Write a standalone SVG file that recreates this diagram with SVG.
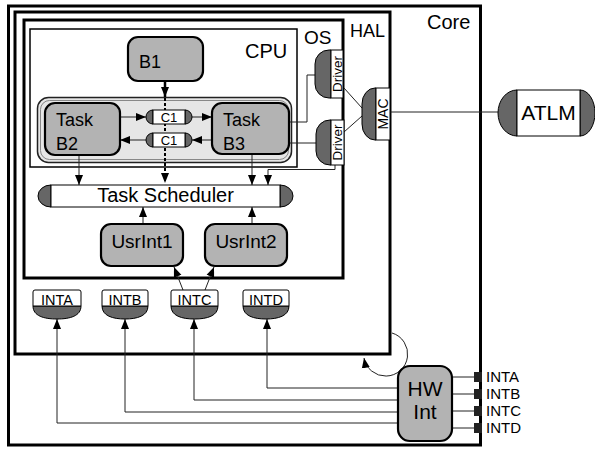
<svg xmlns="http://www.w3.org/2000/svg" width="595" height="449" viewBox="0 0 595 449">
<style>
text{font-family:"Liberation Sans",Arial,sans-serif;fill:#000}
.box{fill:none;stroke:#000;stroke-width:3}
.node{fill:#b3b3b3;stroke:#000;stroke-width:2.2}
.cap{fill:#666;stroke:#000;stroke-width:1}
.wh{fill:#fff;stroke:#000;stroke-width:1}
.ln{fill:none;stroke:#222;stroke-width:1}
.lnb{fill:none;stroke:#111;stroke-width:1.5}
</style>
<defs>
<marker id="ah" markerUnits="userSpaceOnUse" markerWidth="10" markerHeight="10" viewBox="0 0 10 10" refX="10" refY="5" orient="auto"><path d="M0,1 L10,5 L0,9 Z" fill="#000"/></marker>
</defs>
<rect width="595" height="449" fill="#fff"/>
<g id="core"><rect x="8.5" y="6" width="472" height="439" class="box"/><text x="427" y="29" font-size="20">Core</text></g>
<g id="hal"><rect x="15" y="12" width="375" height="342" class="box"/><text x="350" y="37" font-size="18">HAL</text></g>
<g id="os"><rect x="24" y="20" width="319" height="258" class="box"/><text x="304" y="44" font-size="19">OS</text></g>
<g id="cpu"><rect x="30" y="29" width="267" height="138" fill="none" stroke="#000" stroke-width="1.5"/><text x="245" y="58" font-size="20">CPU</text></g>
<g id="group"><rect x="37.5" y="97.5" width="254" height="65" rx="11" fill="#e6e6e6" stroke="#222" stroke-width="1.5"/><rect x="40.5" y="100.5" width="248" height="59" rx="9" fill="none" stroke="#888" stroke-width="1"/></g>
<g id="connectors">
<line x1="165" y1="81" x2="165" y2="97" stroke="#000" stroke-width="2.5" marker-end="url(#ah)"/>
<line x1="165" y1="98" x2="165" y2="183" stroke="#000" stroke-width="2" stroke-dasharray="3,2" marker-end="url(#ah)"/>
<line x1="120" y1="117" x2="146" y2="117" class="ln" marker-end="url(#ah)"/>
<line x1="192" y1="117" x2="212" y2="117" class="ln" marker-end="url(#ah)"/>
<line x1="212" y1="140" x2="192" y2="140" class="ln" marker-end="url(#ah)"/>
<line x1="146" y1="140" x2="120" y2="140" class="ln" marker-end="url(#ah)"/>
<line x1="79" y1="155" x2="79" y2="185" class="ln" marker-end="url(#ah)"/>
<line x1="252" y1="154" x2="252" y2="185" class="ln" marker-end="url(#ah)"/>
<polyline points="335,165 335,169.5 268,169.5 268,185" class="ln" marker-end="url(#ah)"/>
<polyline points="290,122 307,122 307,75 316,75" class="ln"/>
<line x1="290" y1="143" x2="316" y2="143" class="ln"/>
<line x1="344" y1="88" x2="362" y2="108" class="ln"/>
<line x1="344" y1="132" x2="362" y2="116" class="ln"/>
<line x1="390" y1="112" x2="498" y2="112" class="ln"/>
<line x1="143" y1="224" x2="143" y2="207" class="ln" marker-end="url(#ah)"/>
<line x1="252" y1="224" x2="252" y2="207" class="ln" marker-end="url(#ah)"/>
<line x1="183" y1="290" x2="174" y2="267" class="ln" marker-end="url(#ah)"/>
<line x1="205" y1="290" x2="214" y2="267" class="ln" marker-end="url(#ah)"/>
<polyline points="398,423 57,423 57,319" class="ln" marker-end="url(#ah)"/>
<polyline points="398,412 125,412 125,319" class="ln" marker-end="url(#ah)"/>
<polyline points="398,400 194,400 194,319" class="ln" marker-end="url(#ah)"/>
<polyline points="398,388 267,388 267,319" class="ln" marker-end="url(#ah)"/>
<line x1="452" y1="377" x2="474" y2="377" class="ln"/>
<line x1="452" y1="394" x2="474" y2="394" class="ln"/>
<line x1="452" y1="411" x2="474" y2="411" class="ln"/>
<line x1="452" y1="428" x2="474" y2="428" class="ln"/>
<path d="M392,333 A22,22 0 1 1 364,358" class="ln" marker-end="url(#ah)"/>
</g>
<g id="b1"><rect x="128" y="37" width="75" height="44" rx="10" class="node"/><text x="139" y="68" font-size="18">B1</text></g>
<g id="taskb2"><rect x="45" y="103" width="75" height="52" rx="10" class="node"/><text x="56" y="126" font-size="18">Task</text><text x="56" y="150" font-size="18">B2</text></g>
<g id="taskb3"><rect x="212" y="103" width="77" height="51" rx="10" class="node"/><text x="223" y="126" font-size="18">Task</text><text x="223" y="150" font-size="18">B3</text></g>
<g id="c1a"><path d="M153,110 A7,7 0 0 0 153,124 Z" class="cap"/><path d="M185,110 A7,7 0 0 1 185,124 Z" class="cap"/><rect x="153" y="110" width="32" height="14" class="wh"/><text x="169" y="122" font-size="13" text-anchor="middle">C1</text></g>
<g id="c1b"><path d="M153,133 A7,7 0 0 0 153,147 Z" class="cap"/><path d="M185,133 A7,7 0 0 1 185,147 Z" class="cap"/><rect x="153" y="133" width="32" height="14" class="wh"/><text x="169" y="145" font-size="13" text-anchor="middle">C1</text></g>
<g id="driver1"><path d="M331,50 H329 A14,14 0 0 0 315,64 V84 A14,14 0 0 0 329,98 H331 Z" class="cap"/><rect x="331" y="50" width="12" height="48" class="wh"/><text transform="translate(341.5,74) rotate(-90)" font-size="13.5" text-anchor="middle">Driver</text></g>
<g id="driver2"><path d="M331,120 H330 A14,14 0 0 0 316,134 V151 A14,14 0 0 0 330,165 H331 Z" class="cap"/><rect x="331" y="120" width="13" height="45" class="wh"/><text transform="translate(342,142.5) rotate(-90)" font-size="13.5" text-anchor="middle">Driver</text></g>
<g id="mac"><path d="M376,88 H375 A13,16 0 0 0 362,104 V124 A13,16 0 0 0 375,140 H376 Z" class="cap"/><rect x="376" y="88" width="14" height="52" class="wh"/><text transform="translate(388,114) rotate(-90)" font-size="14" text-anchor="middle">MAC</text></g>
<g id="atlm"><path d="M517,90 A19,23 0 0 0 517,136 Z" class="cap"/><path d="M580,90 A15,23 0 0 1 580,136 Z" class="cap"/><rect x="517" y="90" width="63" height="46" class="wh"/><text x="548.5" y="120" font-size="21" text-anchor="middle">ATLM</text></g>
<g id="scheduler"><path d="M51,185 A13,11 0 0 0 51,207 Z" class="cap"/><path d="M280,185 A13,11 0 0 1 280,207 Z" class="cap"/><rect x="51" y="185" width="229" height="22" class="wh"/><text x="165.5" y="202" font-size="20" text-anchor="middle">Task Scheduler</text></g>
<g id="usrint1"><rect x="101" y="224" width="82" height="42" rx="10" class="node"/><text x="142" y="248" font-size="19" text-anchor="middle">UsrInt1</text></g>
<g id="usrint2"><rect x="205" y="224" width="82" height="42" rx="10" class="node"/><text x="246" y="248" font-size="19" text-anchor="middle">UsrInt2</text></g>
<g id="inta"><path d="M33,306 H81 C81,316 70,319 57,319 C44,319 33,316 33,306 Z" class="cap"/><path d="M33,306 V292 Q33,290 35,290 H79 Q81,290 81,292 V306 Z" class="wh"/><text x="57" y="305" font-size="14.5" text-anchor="middle">INTA</text></g>
<g id="intb"><path d="M102,306 H148 C148,316 137,319 125,319 C113,319 102,316 102,306 Z" class="cap"/><path d="M102,306 V292 Q102,290 104,290 H146 Q148,290 148,292 V306 Z" class="wh"/><text x="125" y="305" font-size="14.5" text-anchor="middle">INTB</text></g>
<g id="intc"><path d="M171,306 H218 C218,316 207,319 194.5,319 C182,319 171,316 171,306 Z" class="cap"/><path d="M171,306 V292 Q171,290 173,290 H216 Q218,290 218,292 V306 Z" class="wh"/><text x="194.5" y="305" font-size="14.5" text-anchor="middle">INTC</text></g>
<g id="intd"><path d="M243,306 H289 C289,316 278,319 266,319 C254,319 243,316 243,306 Z" class="cap"/><path d="M243,306 V292 Q243,290 245,290 H287 Q289,290 289,292 V306 Z" class="wh"/><text x="266" y="305" font-size="14.5" text-anchor="middle">INTD</text></g>
<g id="hwint"><rect x="398" y="366" width="54" height="75" rx="12" class="node"/><text x="425" y="396" font-size="21" text-anchor="middle">HW</text><text x="425" y="419" font-size="21" text-anchor="middle">Int</text></g>
<g id="ports">
<rect x="474" y="372" width="8" height="10" fill="#222"/><text x="486" y="382" font-size="15">INTA</text>
<rect x="474" y="389" width="8" height="10" fill="#222"/><text x="486" y="399" font-size="15">INTB</text>
<rect x="474" y="406" width="8" height="10" fill="#222"/><text x="486" y="416" font-size="15">INTC</text>
<rect x="474" y="423" width="8" height="10" fill="#222"/><text x="486" y="433" font-size="15">INTD</text>
</g>
</svg>
